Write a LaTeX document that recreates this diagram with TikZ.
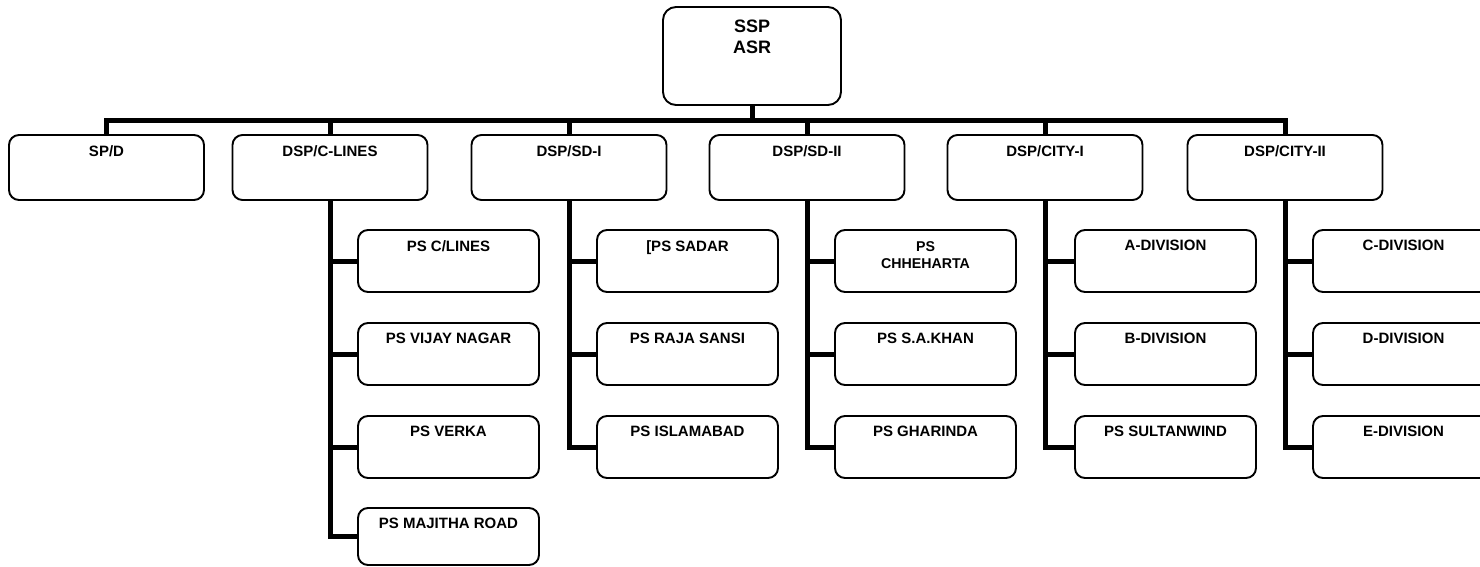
\documentclass[tikz,border=0pt]{standalone}
\usepackage{fontspec}
\setmainfont{Liberation Sans}
\begin{document}
\begin{tikzpicture}[x=1pt,y=-1pt,
  box/.style={draw, line width=1.9pt, rounded corners=10pt, inner sep=0pt, outer sep=0pt, anchor=north west},
  top/.style={box, rounded corners=13pt, minimum width=178pt, minimum height=98pt},
  lone/.style={box, minimum width=195pt, minimum height=65pt},
  ltwo/.style={box, minimum width=181pt, minimum height=62pt},
  lab/.style={anchor=north, inner sep=0pt, yshift=-10pt, font=\bfseries\fontsize{15}{17}\selectfont, align=center},
  toplab/.style={anchor=north, inner sep=0pt, yshift=-13pt, font=\bfseries\fontsize{18}{21}\selectfont, align=center},
  bus/.style={line width=5pt, line join=miter}]
\useasboundingbox (0,0) rectangle (1480,567);
\clip (0,0) rectangle (1480,567);
\fill[white] (0,0) rectangle (1480,567);

\node[top, label={[toplab]north:{SSP\\ASR}}] (ssp) at (663,7) {};

\node[lone, label={[lab]north:SP/D}] (spd) at (9,135) {};
\node[lone, label={[lab]north:DSP/C-LINES}] (dspc) at (232.5,135) {};
\node[lone, label={[lab]north:DSP/SD-I}] (sdone) at (471.5,135) {};
\node[lone, label={[lab]north:DSP/SD-II}] (sdtwo) at (709.5,135) {};
\node[lone, label={[lab]north:DSP/CITY-I}] (cone) at (947.5,135) {};
\node[lone, label={[lab]north:DSP/CITY-II}] (ctwo) at (1187.5,135) {};

% DSP/C-LINES children
\node[ltwo, label={[lab]north:PS C/LINES}] (ca) at (358,230) {};
\node[ltwo, label={[lab]north:PS VIJAY NAGAR}] (cb) at (358,323) {};
\node[ltwo, label={[lab]north:PS VERKA}] (cc) at (358,416) {};
\node[ltwo, minimum height=57pt, label={[lab]north:PS MAJITHA ROAD}] (cd) at (358,508) {};
% DSP/SD-I children
\node[ltwo, label={[lab]north:{{[}PS SADAR}}] (da) at (597,230) {};
\node[ltwo, label={[lab]north:PS RAJA SANSI}] (db) at (597,323) {};
\node[ltwo, label={[lab]north:PS ISLAMABAD}] (dc) at (597,416) {};
% DSP/SD-II children
\node[ltwo, label={[lab, yshift=-1pt, font=\bfseries\fontsize{14.2}{17}\selectfont]north:{PS\\CHHEHARTA}}] (ea) at (835,230) {};
\node[ltwo, label={[lab]north:PS S.A.KHAN}] (eb) at (835,323) {};
\node[ltwo, label={[lab]north:PS GHARINDA}] (ec) at (835,416) {};
% DSP/CITY-I children
\node[ltwo, label={[lab]north:A-DIVISION}] (fa) at (1075,230) {};
\node[ltwo, label={[lab]north:B-DIVISION}] (fb) at (1075,323) {};
\node[ltwo, label={[lab]north:PS SULTANWIND}] (fc) at (1075,416) {};
% DSP/CITY-II children
\node[ltwo, label={[lab]north:C-DIVISION}] (ga) at (1313,230) {};
\node[ltwo, label={[lab]north:D-DIVISION}] (gb) at (1313,323) {};
\node[ltwo, label={[lab]north:E-DIVISION}] (gc) at (1313,416) {};

% connectors
\coordinate (bus) at (752,121);
\draw[bus] (ssp.south) -- (bus);
\draw[bus] (bus) -| (spd.north);
\draw[bus] (bus) -| (dspc.north);
\draw[bus] (bus) -| (sdone.north);
\draw[bus] (bus) -| (sdtwo.north);
\draw[bus] (bus) -| (cone.north);
\draw[bus] (bus) -| (ctwo.north);

\foreach \p/\c in {dspc/ca,dspc/cb,dspc/cc,dspc/cd,
                   sdone/da,sdone/db,sdone/dc,
                   sdtwo/ea,sdtwo/eb,sdtwo/ec,
                   cone/fa,cone/fb,cone/fc,
                   ctwo/ga,ctwo/gb,ctwo/gc}
  \draw[bus] (\p.south) |- (\c.west);
\end{tikzpicture}
\end{document}
